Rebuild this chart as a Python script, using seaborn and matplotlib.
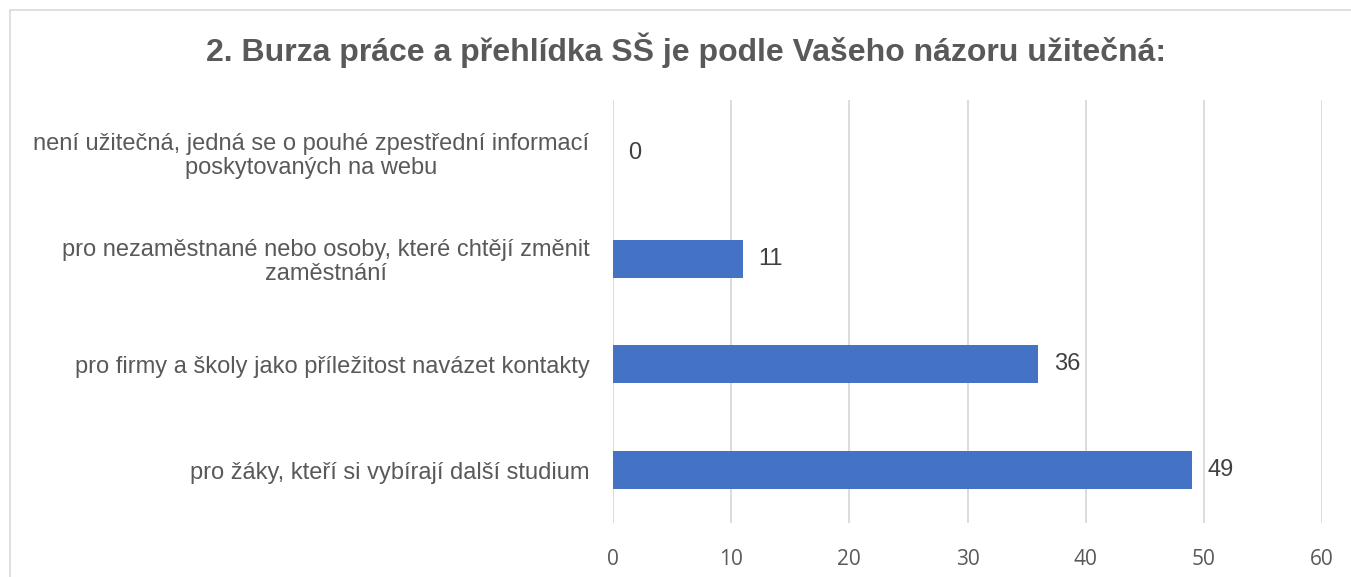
import matplotlib
matplotlib.use("Agg")
import matplotlib.pyplot as plt
import seaborn as sns
import pandas as pd
from matplotlib.patches import Rectangle

categories = [
    "není užitečná, jedná se o pouhé zpestřední informací\nposkytovaných na webu",
    "pro nezaměstnané nebo osoby, které chtějí změnit\nzaměstnání",
    "pro firmy a školy jako příležitost navázet kontakty",
    "pro žáky, kteří si vybírají další studium",
]
values = [0, 11, 36, 49]
xticks = [0, 10, 20, 30, 40, 50, 60]
title = "2. Burza práce a přehlídka SŠ je podle Vašeho názoru užitečná:"

sns.set_theme(style="white")
plt.rcParams['font.family'] = ['Liberation Sans', 'DejaVu Sans']

df = pd.DataFrame({"cat": categories, "val": values})

fig = plt.figure(figsize=(13.51, 5.77), dpi=100)
ax = fig.add_axes([613/1351, 1 - 523/577, (1322-613)/1351, (523-100)/577])

sns.barplot(data=df, y="cat", x="val", orient="h", color="#4472C4",
            saturation=1, width=0.36, ax=ax, zorder=3, linewidth=0)

ax.set_xlim(0, 60)
ax.set_ylim(3.5, -0.5)
ax.set_xticks(xticks)
ax.set_xticklabels([str(t) for t in xticks], fontsize=15, color="#595959",
                   family=['Open Sans', 'DejaVu Sans'])
ax.tick_params(axis='x', length=0, pad=18.5)
ax.tick_params(axis='y', length=0, pad=17)
for lbl in ax.get_yticklabels():
    lbl.set_fontsize(17)
    lbl.set_color("#595959")
    lbl.set_multialignment("center")
    lbl.set_linespacing(1.1)
ax.set_xlabel("")
ax.set_ylabel("")
ax.grid(axis='x', color="#D9D9D9", linewidth=1.3, zorder=0)
for s in ax.spines.values():
    s.set_visible(False)

for i, v in enumerate(values):
    ax.annotate(str(v), (v, i), xytext=(11, 0), textcoords="offset points",
                va="center", ha="left", fontsize=17, color="#404040")

fig.text(686/1351, 1 - 50/577, title, ha="center", va="center",
         fontsize=23, fontweight="bold", color="#595959")

fig.patches.append(Rectangle((10/1351, -0.01), 1.5, 1 - 10/577 + 0.01,
                             transform=fig.transFigure, fill=False,
                             edgecolor="#D9D9D9", linewidth=1.2))

fig.savefig("out.png", dpi=100)
